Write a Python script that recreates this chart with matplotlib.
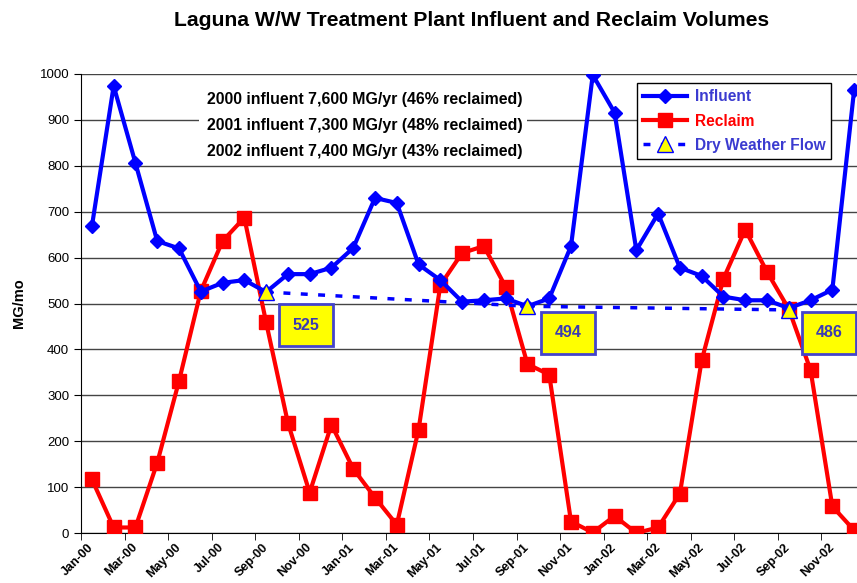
import matplotlib.pyplot as plt
from matplotlib.patches import Rectangle

plt.rcParams['font.family'] = ['Liberation Sans', 'DejaVu Sans']

# monthly values Jan-00 .. Dec-02
months = ['Jan-00', 'Feb-00', 'Mar-00', 'Apr-00', 'May-00', 'Jun-00', 'Jul-00', 'Aug-00',
          'Sep-00', 'Oct-00', 'Nov-00', 'Dec-00', 'Jan-01', 'Feb-01', 'Mar-01', 'Apr-01',
          'May-01', 'Jun-01', 'Jul-01', 'Aug-01', 'Sep-01', 'Oct-01', 'Nov-01', 'Dec-01',
          'Jan-02', 'Feb-02', 'Mar-02', 'Apr-02', 'May-02', 'Jun-02', 'Jul-02', 'Aug-02',
          'Sep-02', 'Oct-02', 'Nov-02', 'Dec-02']
influent = [668, 974, 806, 636, 620, 526, 545, 551, 525, 564, 564, 578,
            621, 730, 719, 585, 551, 504, 507, 511, 494, 511, 625, 998,
            916, 616, 696, 578, 560, 515, 507, 507, 490, 507, 530, 965]
reclaim = [117, 12, 12, 153, 331, 527, 636, 687, 459, 240, 88, 236,
           140, 77, 18, 225, 540, 610, 625, 536, 368, 345, 25, 1,
           37, 0, 12, 86, 376, 554, 661, 569, 488, 355, 58, 6]
dry_idx = [8, 20, 32]
dry_flow = [525, 494, 486]
summary = ['2000 influent 7,600 MG/yr (46% reclaimed)',
           '2001 influent 7,300 MG/yr (48% reclaimed)',
           '2002 influent 7,400 MG/yr (43% reclaimed)']

x = list(range(len(months)))

fig = plt.figure(figsize=(8.57, 5.83), dpi=100)
ax = fig.add_axes([81 / 857, 50 / 583, 784 / 857, 459 / 583])

box_edge = '#4444cc'
box_text = '#3b3bb3'

ax.plot(x, reclaim, color='#ff0000', linewidth=3, marker='s', markersize=9.5,
        label='Reclaim', zorder=3)
ax.plot(x, influent, color='#0000ff', linewidth=3, marker='D', markersize=7,
        label='Influent', zorder=4)
ax.plot(dry_idx, dry_flow, color='#0000ff', linewidth=2.5, dashes=(2, 3),
        marker='^', markersize=12, markerfacecolor='#ffff00', markeredgecolor='#0000ff',
        markeredgewidth=1, label='Dry Weather Flow', zorder=5)

# value boxes next to the dry weather points
box_y = [453, 436, 436]
for i, v, by in zip(dry_idx, dry_flow, box_y):
    ax.text(i + 1.85, by, str(v), fontsize=11.5, fontweight='bold', color=box_text,
            ha='center', va='center', zorder=6,
            bbox=dict(boxstyle='square,pad=0.85', facecolor='#ffff00',
                      edgecolor=box_edge, linewidth=2))

# summary text with white background
ax.add_patch(Rectangle((4.9, 810), 15.1, 163, facecolor='white', edgecolor='none', zorder=2))
for k, line in enumerate(summary):
    ax.text(5.3, 944 - k * 56, line, fontsize=11.4, fontweight='bold', ha='left',
            va='center', zorder=2.5)

ax.set_xlim(-0.5, 35.5)
ax.set_ylim(0, 1000)
ax.set_yticks(range(0, 1001, 100))
ax.set_xticks(x[::2])
ax.set_xticklabels(months[::2], rotation=45, ha='right', va='center',
                   rotation_mode='anchor', fontsize=9, fontweight='bold')
ax.set_xticks([i - 0.5 for i in range(0, 36, 2)], minor=True)
ax.tick_params(axis='x', which='major', length=0, pad=9)
ax.tick_params(axis='x', which='minor', length=5, direction='out')
ax.tick_params(axis='y', length=5, labelsize=9.5)
ax.grid(axis='y', color='#444444', linewidth=1)
ax.set_axisbelow(True)
for s in ['top', 'right']:
    ax.spines[s].set_visible(False)

ax.set_ylabel('MG/mo', fontsize=10.5, fontweight='bold', labelpad=10)
fig.text(472 / 857, 1 - 20 / 583, 'Laguna W/W Treatment Plant Influent and Reclaim Volumes',
         fontsize=15.2, fontweight='bold', ha='center', va='center')

handles, labels = ax.get_legend_handles_labels()
order = [1, 0, 2]
leg = ax.legend([handles[i] for i in order], [labels[i] for i in order],
                loc='upper left', bbox_to_anchor=(637 / 857, 1 - 83 / 583),
                bbox_transform=fig.transFigure, borderaxespad=0, fancybox=False,
                framealpha=1, edgecolor='black', prop={'weight': 'bold', 'size': 11.2},
                handlelength=2.8, borderpad=0.4, labelspacing=0.6, handletextpad=0.5)
leg.get_frame().set_linewidth(1)
for t, c in zip(leg.get_texts(), ['#3b3bd0', '#ff0000', '#3b3bd0']):
    t.set_color(c)

fig.savefig('out.png', dpi=100)
